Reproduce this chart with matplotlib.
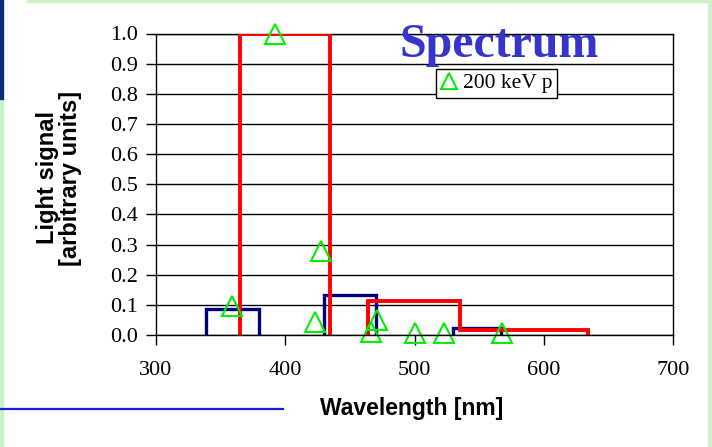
import numpy as np
import matplotlib
matplotlib.use('Agg')
import matplotlib.pyplot as plt
from matplotlib.patches import Rectangle
from matplotlib.lines import Line2D

# step spectra (bin edges in nm, level per bin)
red_edges = [365, 435, 464, 535, 634]
red_levels = [1.0, 0.0, 0.113, 0.017]
blue_edges = [339, 380, 430, 470, 530, 567]
blue_levels = [0.085, 0.0, 0.133, 0.0, 0.022]

# 200 keV p measured points
p_wl = [359, 392, 423, 428, 466, 471, 500, 523, 568]
p_sig = [0.095, 1.0, 0.043, 0.28, 0.011, 0.05, 0.006, 0.006, 0.006]

x_ticks = [300, 400, 500, 600, 700]
y_ticks = [0.0, 0.1, 0.2, 0.3, 0.4, 0.5, 0.6, 0.7, 0.8, 0.9, 1.0]


def step_path(edges, levels):
    # outline of a step spectrum, zero bins left open so the axis shows
    xs, ys = [edges[0]], [0.0]
    for i, v in enumerate(levels):
        if v == 0:
            xs += [edges[i], np.nan, edges[i + 1]]
            ys += [0.0, np.nan, 0.0]
        else:
            xs += [edges[i], edges[i + 1]]
            ys += [v, v]
    xs.append(edges[-1])
    ys.append(0.0)
    return xs, ys


serif = 'Liberation Serif'
sans = 'Liberation Sans'

fig = plt.figure(figsize=(7.12, 4.47), dpi=100)
W, H = 712.0, 447.0

# slide borders
green = '#c8f2c8'
fig.patches.append(Rectangle((0, 0), 3 / W, 1 - 99 / H, transform=fig.transFigure, color=green, zorder=0))
fig.patches.append(Rectangle((0, 1 - 99 / H), 3 / W, 99 / H, transform=fig.transFigure, color='#0b2f6e', zorder=0))
fig.patches.append(Rectangle((27 / W, 1 - 1.5 / H), 1, 1.5 / H, transform=fig.transFigure, color=green, zorder=0))
fig.patches.append(Rectangle((708 / W, 0), 4 / W, 1, transform=fig.transFigure, color=green, zorder=0))
fig.lines.append(Line2D([0, 283 / W], [1 - 409 / H, 1 - 409 / H], transform=fig.transFigure, color='#1a1ae6', lw=1.6))

ax = fig.add_axes([156 / W, 1 - 335 / H, (673 - 156) / W, (335 - 33.5) / H])

xs, ys = step_path(blue_edges, blue_levels)
ax.plot(xs, ys, color='#000080', lw=2.4, solid_joinstyle='miter', zorder=3)
xs, ys = step_path(red_edges, red_levels)
ax.plot(xs, ys, color='#ff0000', lw=2.8, solid_joinstyle='miter', zorder=4)
ax.plot(p_wl, p_sig, linestyle='none', marker='^', markersize=14.5, mfc='none',
        mec='#00ee00', mew=1.5, clip_on=False, zorder=5, label='200 keV p')

ax.set_xlim(300, 700)
ax.set_ylim(0, 1.0)
ax.set_xticks(x_ticks)
ax.set_yticks(y_ticks)
ax.set_yticklabels(['%.1f' % v for v in y_ticks])
ax.yaxis.grid(True, color='black', lw=1.0)
ax.set_axisbelow(True)
for s in ax.spines.values():
    s.set_linewidth(1.0)
ax.spines['bottom'].set_zorder(6)
ax.tick_params(axis='x', direction='out', length=7, width=1, pad=12)
ax.tick_params(axis='y', direction='out', length=7, width=1, pad=6)
for lab in ax.get_xticklabels() + ax.get_yticklabels():
    lab.set_fontfamily(serif)
    lab.set_fontsize(16)

fig.text(412 / W, 1 - 408 / H, 'Wavelength [nm]', family=sans, weight='bold',
         fontsize=16.5, ha='center', va='center')
fig.text(59 / W, 1 - 178 / H, 'Light signal\n[arbitrary units]', family=sans, weight='bold',
         fontsize=17, ha='center', va='center', rotation=90, linespacing=1.05)
fig.text(499 / W, 1 - 57 / H, 'Spectrum', family=serif, weight='bold', fontsize=34.5,
         color='#3535cc', ha='center', va='baseline')

leg = ax.legend(loc='upper left', bbox_to_anchor=(436 / W, 1 - 69 / H),
                bbox_transform=fig.transFigure, prop={'family': serif, 'size': 15.5},
                frameon=True, fancybox=False, borderpad=0.2, handlelength=0.8,
                handletextpad=0.25, borderaxespad=0, markerscale=0.8)
leg.get_frame().set_edgecolor('black')
leg.get_frame().set_linewidth(1.0)
leg.get_frame().set_alpha(1)

fig.savefig('out.png', dpi=100)
